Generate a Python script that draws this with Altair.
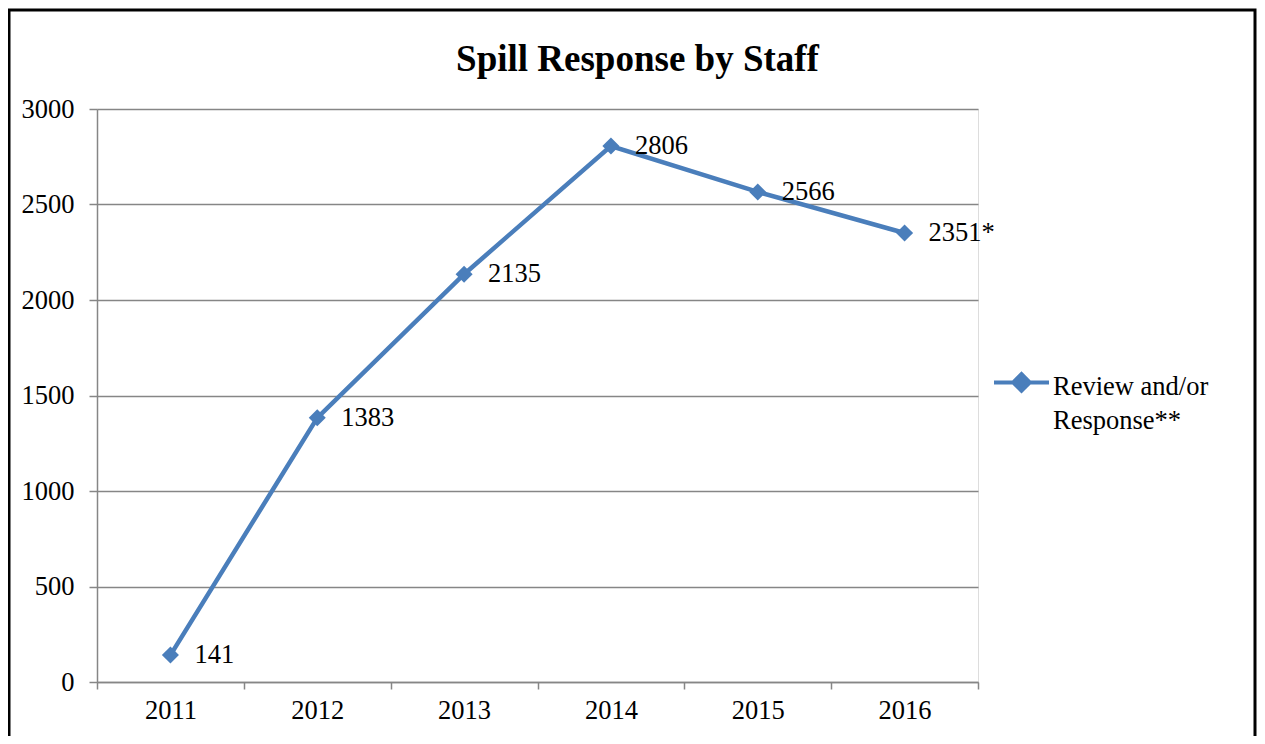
import altair as alt
import pandas as pd

years = ["2011", "2012", "2013", "2014", "2015", "2016"]
values = [141, 1383, 2135, 2806, 2566, 2351]
labels = ["141", "1383", "2135", "2806", "2566", "2351*"]
series_name = "Review and/or\nResponse**"
y_ticks = [0, 500, 1000, 1500, 2000, 2500, 3000]

BLUE = "#4A7EBB"
GRAY = "#868686"
FONT = "Liberation Serif"
FS = 26.5

df = pd.DataFrame({"year": years, "value": values, "label": labels, "series": [series_name] * len(years)})

W, H = 881, 573

x = alt.X("year:N", scale=alt.Scale(paddingInner=0, paddingOuter=0),
          axis=alt.Axis(title=None, labelAngle=0, tickBand="extent", domainColor=GRAY, tickColor=GRAY,
                        tickSize=7, labelPadding=8, labelFontSize=FS, labelFont=FONT, labelColor="black",
                        grid=False, domainWidth=1.5, tickWidth=1.5))
y = alt.Y("value:Q", scale=alt.Scale(domain=[0, 3000], nice=False),
          axis=alt.Axis(title=None, values=y_ticks, format="d", gridColor=GRAY, gridWidth=1.5,
                        domainColor=GRAY, tickColor=GRAY, tickSize=8, labelPadding=15, labelFontSize=FS,
                        labelFont=FONT, labelColor="black", domainWidth=1.5, tickWidth=1.5))

sym_path = ("M-1,-0.44 L1,-0.44 "
            "M-0.3,-0.44 L0,-0.74 L0.3,-0.44 L0,-0.14 Z")

leg = alt.Legend(title=None, orient="none", legendX=895, legendY=256,
                 symbolType=sym_path, symbolSize=3025, symbolStrokeWidth=4,
                 symbolFillColor=BLUE, symbolStrokeColor=BLUE,
                 labelFont=FONT, labelFontSize=FS, labelColor="black",
                 labelBaseline="alphabetic", labelOffset=2,
                 labelLimit=400, padding=0,
                 labelExpr="split(datum.label, '\\n')")

color = alt.Color("series:N", scale=alt.Scale(range=[BLUE]), legend=leg)

base = alt.Chart(df)
line = base.mark_line(strokeWidth=4.5).encode(x=x, y=y, color=color)
pts = base.mark_point(shape="diamond", filled=True, size=290, opacity=1, color=BLUE).encode(x=x, y=y)
txt = base.mark_text(align="left", baseline="middle", dx=24, font=FONT, fontSize=FS, color="black").encode(
    x=x, y=y, text="label:N")

border = alt.Chart(pd.DataFrame({"a": [0]})).mark_rect(fill=None, stroke="black", strokeWidth=3).encode(
    x=alt.value(-88), x2=alt.value(1158), y=alt.value(-99), y2=alt.value(700))

chart = alt.layer(border, line, pts, txt).properties(
    width=W, height=H,
    title=alt.TitleParams("Spill Response by Staff", font=FONT, fontSize=37, fontWeight="bold",
                          color="black", anchor="middle", baseline="alphabetic", offset=-99, dx=100),
    autosize=alt.AutoSizeParams(type="none"),
    padding={"left": 89, "top": 101, "right": 279, "bottom": 54},
).configure_view(stroke=None).configure(style={"guide-label": {"lineHeight": 34}})

chart.save("out.html", embed_options={"renderer": "svg", "actions": False})
